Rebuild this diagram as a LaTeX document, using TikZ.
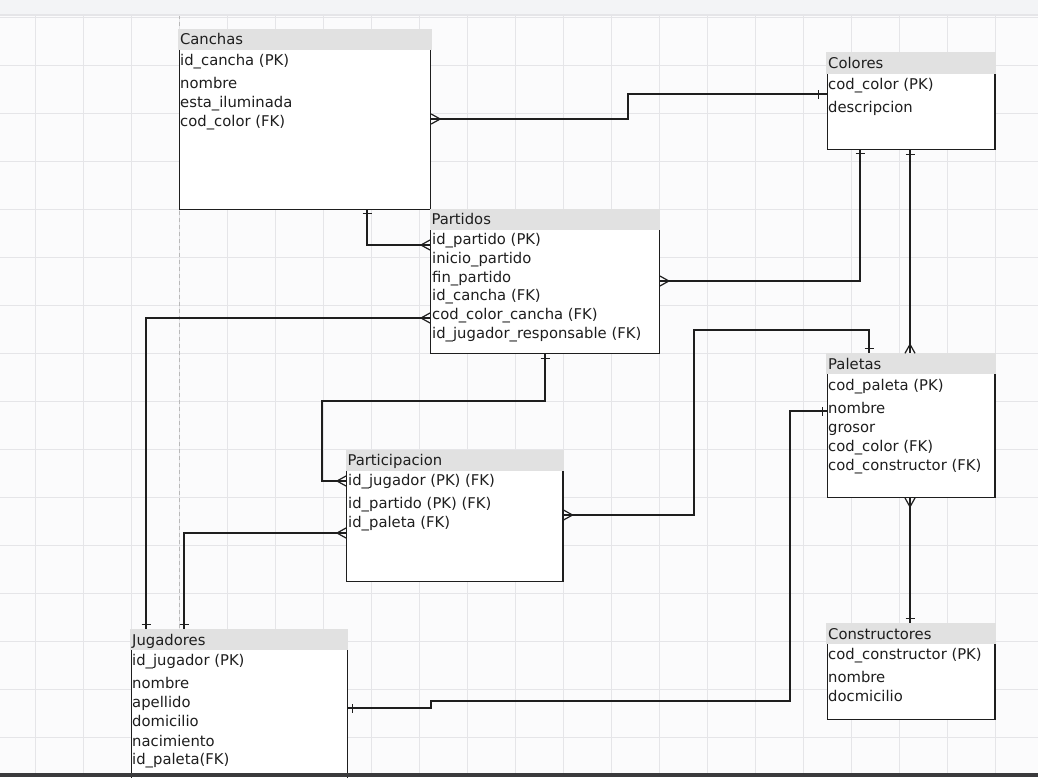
\documentclass[tikz,border=0pt]{standalone}
\usepackage{fontspec}
\setmainfont{DejaVu Sans}
\usetikzlibrary{decorations.markings}

\definecolor{hdrgray}{HTML}{E1E1E1}
\definecolor{gridgray}{HTML}{E5E5E8}
\definecolor{bggray}{HTML}{FBFBFC}
\definecolor{barlight}{HTML}{F3F4F6}
\definecolor{bardark}{HTML}{3A3A3C}
\definecolor{ink}{HTML}{1E1E1E}

\newcommand\erfont{\fontsize{14.8pt}{18pt}\selectfont}

\tikzset{
  tbl/.style={draw=ink, line width=1.2pt, fill=white, inner sep=0pt, anchor=north west},
  hdr/.style={fill=hdrgray, inner xsep=2pt, inner ysep=0pt, minimum height=21.5pt,
    text height=12.4pt, text depth=1pt, align=left, anchor=north west, font=\erfont, text=ink},
  fld/.style={inner sep=0pt, anchor=base west, font=\erfont, text=ink},
  gridline/.style={draw=gridgray, line width=1pt},
  conn/.style={draw=ink, line width=1.2pt},
  oneS/.style={postaction={decorate, decoration={markings,
    mark=at position #1 with {\draw[conn] (0pt,-4.5pt) -- (0pt,4.5pt);}}}},
  oneS/.default=4.5pt,
  oneE/.style={postaction={decorate, decoration={markings,
    mark=at position -#1 with {\draw[conn] (0pt,-4.5pt) -- (0pt,4.5pt);}}}},
  oneE/.default=4.5pt,
  manyS/.style={postaction={decorate, decoration={markings,
    mark=at position 0pt with {\draw[conn] (0pt,5pt) -- (9pt,0pt) -- (0pt,-5pt);}}}},
  manyE/.style={postaction={decorate, decoration={markings,
    mark=at position -0.01pt with {\draw[conn] (0pt,5pt) -- (-9pt,0pt) -- (0pt,-5pt);}}}},
}

\begin{document}
\begin{tikzpicture}[x=1pt, y=-1pt]
    % Canvas
    % ---------------------
    \useasboundingbox (0,0) rectangle (1038,777);
    \fill[bggray] (0,0) rectangle (1038,777);
    \foreach \gx in {35,83,...,1035} \draw[gridline] (\gx,15) -- (\gx,777);
    \foreach \gy in {17,65,...,737} \draw[gridline] (0,\gy) -- (1038,\gy);
    \draw[draw=gray!55, line width=0.8pt, dash pattern=on 4pt off 3pt] (179,15) -- (179,777);

    % Canchas
    % ---------------------
    \node[tbl, minimum width=251.5pt, minimum height=180pt] (canchas) at (178.5,29) {};
    \node[hdr, text width=250.2pt] (canchas-h) at (177.8,28.3) {Canchas};
    \node[fld] (canchas-1) at (180,65.5) {id\_cancha (PK)};
    \node[fld] (canchas-2) at (180,88) {nombre};
    \node[fld] (canchas-3) at (180,107.3) {esta\_iluminada};
    \node[fld] (canchas-4) at (180,126.6) {cod\_color (FK)};

    % Partidos
    % ---------------------
    \node[tbl, minimum width=228.7pt, minimum height=143.7pt] (partidos) at (430,209) {};
    \node[hdr, text width=226.7pt] (partidos-h) at (429.3,208.3) {Partidos};
    \node[fld] (partidos-1) at (432,244.6) {id\_partido (PK)};
    \node[fld] (partidos-2) at (432,263.3) {inicio\_partido};
    \node[fld] (partidos-3) at (432,282) {fin\_partido};
    \node[fld] (partidos-4) at (432,300.7) {id\_cancha (FK)};
    \node[fld] (partidos-5) at (432,319.4) {cod\_color\_cancha (FK)};
    \node[fld] (partidos-6) at (432,338.1) {id\_jugador\_responsable (FK)};

    % Colores
    % ---------------------
    \node[tbl, minimum width=167.6pt, minimum height=96.3pt] (colores) at (826.7,52.7) {};
    \node[hdr, text width=166pt] (colores-h) at (826,52) {Colores};
    \node[fld] (colores-1) at (828,89.6) {cod\_color (PK)};
    \node[fld] (colores-2) at (828,112) {descripcion};

    % Paletas
    % ---------------------
    \node[tbl, minimum width=167.6pt, minimum height=143.4pt] (paletas) at (826.7,353.3) {};
    \node[hdr, text width=166pt] (paletas-h) at (826,352.6) {Paletas};
    \node[fld] (paletas-1) at (828,390.4) {cod\_paleta (PK)};
    \node[fld] (paletas-2) at (828,413) {nombre};
    \node[fld] (paletas-3) at (828,432.2) {grosor};
    \node[fld] (paletas-4) at (828,451.4) {cod\_color (FK)};
    \node[fld] (paletas-5) at (828,470.6) {cod\_constructor (FK)};

    % Constructores
    % ---------------------
    \node[tbl, minimum width=167.6pt, minimum height=95.7pt] (constructores) at (826.7,623.3) {};
    \node[hdr, text width=166pt] (constructores-h) at (826,622.6) {Constructores};
    \node[fld] (constructores-1) at (828,659.6) {cod\_constructor (PK)};
    \node[fld] (constructores-2) at (828,682.5) {nombre};
    \node[fld] (constructores-3) at (828,701.6) {docmicilio};

    % Participacion
    % ---------------------
    \node[tbl, minimum width=216.3pt, minimum height=130.7pt] (participacion) at (346,450) {};
    \node[hdr, text width=214pt] (participacion-h) at (345.3,449.3) {Participacion};
    \node[fld] (participacion-1) at (348,485.6) {id\_jugador (PK) (FK)};
    \node[fld] (participacion-2) at (348,508) {id\_partido (PK) (FK)};
    \node[fld] (participacion-3) at (348,527.3) {id\_paleta (FK)};

    % Jugadores
    % ---------------------
    \node[tbl, minimum width=216pt, minimum height=170pt] (jugadores) at (130.7,629.3) {};
    \node[hdr, text width=213.7pt] (jugadores-h) at (130,628.6) {Jugadores};
    \node[fld] (jugadores-1) at (132,665.3) {id\_jugador (PK)};
    \node[fld] (jugadores-2) at (132,688.3) {nombre};
    \node[fld] (jugadores-3) at (132,707.5) {apellido};
    \node[fld] (jugadores-4) at (132,726.7) {domicilio};
    \node[fld] (jugadores-5) at (132,746) {nacimiento};
    \node[fld] (jugadores-6) at (132,764.6) {id\_paleta(FK)};

    % Relations
    % ---------------------
    \draw[conn, manyS, oneE=8.4pt] (canchas.east |- 0,119) -| (628,94) -- (colores.west |- 0,94);
    \draw[conn, oneS=3pt, manyE] (canchas.south -| 367,0) |- (partidos.west |- 0,245);
    \draw[conn, oneS=3.5pt, manyE] (colores.south -| 860,0) |- (partidos.east |- 0,281);
    \draw[conn, oneS, manyE] (colores.south -| 910,0) -- (paletas.north -| 910,0);
    \draw[conn, manyS, oneE] (paletas.south -| 910,0) -- (constructores.north -| 910,0);
    \draw[conn, manyS, oneE] (participacion.east |- 0,515) -| (694,330) -| (paletas.north -| 869,0);
    \draw[conn, oneS, oneE] (jugadores.east |- 0,708) -| (431,701) -| (790,411) -- (paletas.west |- 0,411);
    \draw[conn, oneS, manyE] (partidos.south -| 545,0) |- (322,401) |- (participacion.west |- 0,481);
    \draw[conn, manyS, oneE] (partidos.west |- 0,318) -| (jugadores.north -| 146,0);
    \draw[conn, manyS, oneE] (participacion.west |- 0,533) -| (jugadores.north -| 184,0);

    % Window bars
    % ---------------------
    \fill[barlight] (0,0) rectangle (1038,15);
    \draw[draw=gridgray, line width=1.5pt] (0,15) -- (1038,15);
    \fill[bardark] (0,772.5) rectangle (1038,777);
\end{tikzpicture}
\end{document}
